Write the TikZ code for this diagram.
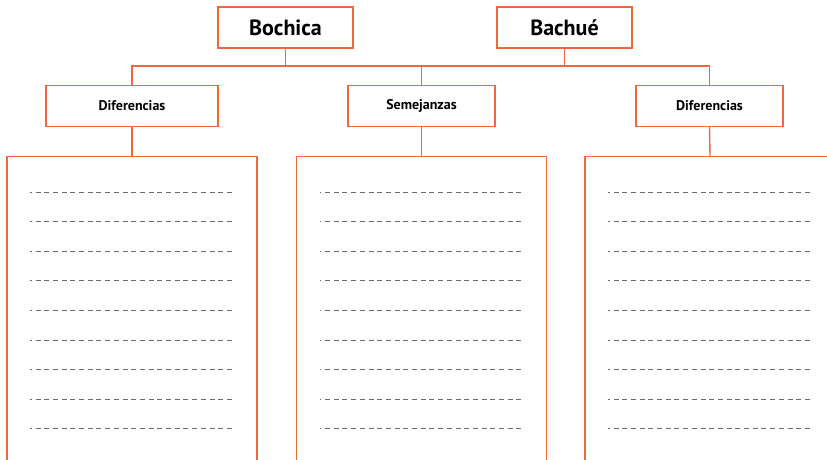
\documentclass[tikz,border=0pt]{standalone}
\usepackage{fontspec}
\setmainfont{PT Sans}
\usetikzlibrary{positioning}
\definecolor{naranja}{RGB}{240,104,60}

\begin{document}
\begin{tikzpicture}[x=1pt, y=1pt,
  caja/.style={draw=naranja, line width=1.4pt, minimum height=41pt, inner sep=0pt},
  titulo/.style={caja, minimum width=135pt, font=\bfseries\fontsize{22}{24}\selectfont},
  etiqueta/.style={caja, minimum width=147pt, font=\bfseries\fontsize{14}{16}\selectfont},
  hoja/.style={draw=naranja, line width=1.4pt, minimum width=250pt, minimum height=330pt, anchor=north, inner sep=0pt},
  enlace/.style={draw=naranja, line width=1.4pt},
  renglon/.style={draw=gray!85!black, line width=0.9pt, dash pattern=on 5pt off 3.7pt, dash phase=3.5pt}]
\useasboundingbox (0,0) rectangle (827,-459);
\clip (0,0) rectangle (827,-459);
% titulos
\node[titulo] (bochica) at (285.5,-27.5) {Bochica};
\node[titulo] (bachue) at (564.5,-27.5) {Bachué};
% etiquetas
\node[etiqueta, minimum width=172pt] (dif1) at (132,-106) {Diferencias};
\node[etiqueta] (sem) at (421.5,-106) {Semejanzas};
\node[etiqueta] (dif2) at (709.5,-106) {Diferencias};
\coordinate (bus) at (0,-66);
% hojas
\node[hoja] (hoja1) at (132,-156) {};
\node[hoja] (hoja2) at (421.5,-156) {};
\node[hoja] (hoja3) at (710,-156) {};
% enlaces
\draw[enlace] (bochica.south) -- (bochica.south |- bus);
\draw[enlace] (bachue.south) -- (bachue.south |- bus);
\draw[enlace] (dif1.north) -- (dif1.north |- bus) -- (dif2.north |- bus) -- (dif2.north);
\draw[enlace] (sem.north) -- (sem.north |- bus);
\draw[enlace] (dif1.south) -- (hoja1.north);
\draw[enlace] (sem.south) -- (hoja2.north);
\draw[enlace] (dif2.south) -- (hoja3.north);
% renglones
\foreach \h in {hoja1, hoja2, hoja3}
  \foreach \k in {0,...,8}
    \draw[renglon] ([xshift=24pt, yshift={-36pt-29.6pt*\k}]\h.north west) -- ++(202,0);
\end{tikzpicture}
\end{document}
